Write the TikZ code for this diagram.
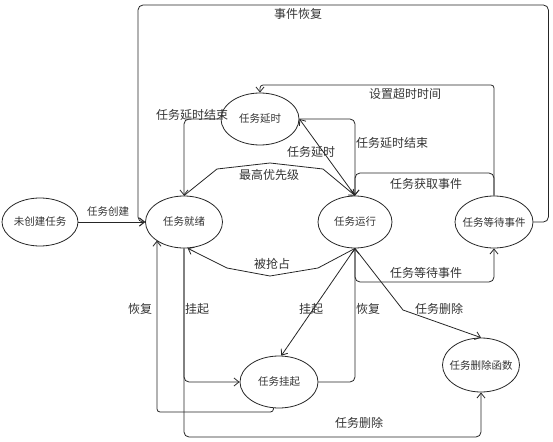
\documentclass[tikz,border=0pt]{standalone}
\usepackage{fontspec}
\setmainfont{Noto Sans CJK SC}
\usetikzlibrary{shapes.geometric,arrows.meta}
\begin{document}
\begin{tikzpicture}[x=1pt,y=-1pt,
  st/.style={ellipse,draw=black!85,line width=0.8pt,inner sep=0pt,font=\fontsize{10.5}{12}\selectfont,text=black!80},
  lbl/.style={inner sep=0pt,font=\fontsize{12}{14}\selectfont,text=black!80},
  arr/.style={draw=black!85,line width=0.8pt,rounded corners=5pt,-{Straight Barb[length=5pt,width=8pt]}},
  arrs/.style={draw=black!85,line width=0.8pt,-{Straight Barb[length=5pt,width=8pt]}}]
\useasboundingbox (0,0) rectangle (553,441);
% states
\node[st,minimum width=76pt,minimum height=48pt] (uc) at (40,222) {\makebox[0pt]{未创建任务}};
\node[st,minimum width=77pt,minimum height=52pt] (rdy) at (184,222) {\makebox[0pt]{任务就绪}};
\node[st,minimum width=74pt,minimum height=52pt] (run) at (355,222) {\makebox[0pt]{任务运行}};
\node[st,minimum width=78pt,minimum height=52pt] (wait) at (494,222) {\makebox[0pt]{任务等待事件}};
\node[st,minimum width=78pt,minimum height=52pt] (dly) at (260,119) {\makebox[0pt]{任务延时}};
\node[st,minimum width=78pt,minimum height=52pt] (sus) at (279,382) {\makebox[0pt]{任务挂起}};
\node[st,minimum width=77pt,minimum height=54pt] (del) at (481,365) {\makebox[0pt]{任务删除函数}};
% helper coordinates
\coordinate (evtl) at (138,5);
\coordinate (st1) at (260,85);
\coordinate (ge) at (355,173);
\coordinate (we) at (494,282);
\coordinate (rb) at (157,412);
\coordinate (db) at (481,437);
% connectors
\draw[arrs] (uc.east) -- (rdy.west);
\draw[arr] (wait.east) -- ++(15,0) |- (evtl) |- (rdy.west);
\draw[arr,rounded corners=3pt] (wait.north) |- (st1) -- (dly.north);
\draw[arr] (wait.north) |- (ge) -- (run.north);
\draw[arr] (run.south) |- (we) -- (wait.south);
\draw[arr] (dly.west) -| (rdy.north);
\draw[arr] (dly.east) -| (run.north);
\draw[arrs] (run.north) -- (dly.east);
\draw[arrs] (rdy.north) -- (217,169) -- (270,163) -- (323,169) -- (run.north);
\draw[arrs] (run.south) -- (318,268) -- (270,276) -- (227,268) -- (rdy.278);
\draw[arrs] (run.south) -- (sus.85);
\draw[arr] (sus.east) -| (run.south);
\draw[arrs] (run.south) -- (403,310) -- (del.north);
\draw[arr] (rdy.south) |- (sus.west);
\draw[arr,rounded corners=3pt] (sus.258) |- (rb) -- (rb |- rdy.214);
\draw[arr] (rdy.south) |- (db) -- (del.south);
% labels
\node[lbl,font=\fontsize{10.5}{12}\selectfont] (l1) at (108,212) {任务创建};
\node[lbl] (l2) at (298,14) {事件恢复};
\node[lbl] (l3) at (405,94) {设置超时时间};
\node[lbl] (l4) at (426,184) {任务获取事件};
\node[lbl] (l5) at (426,273) {任务等待事件};
\node[lbl] (l6) at (192,115) {任务延时结束};
\node[lbl] (l7) at (392,143) {任务延时结束};
\node[lbl] (l8) at (311,152) {任务延时};
\node[lbl] (l9) at (269,175) {最高优先级};
\node[lbl] (l10) at (272,264) {被抢占};
\node[lbl] (l11) at (311,309) {挂起};
\node[lbl] (l12) at (368,309) {恢复};
\node[lbl] (l13) at (439,309) {任务删除};
\node[lbl] (l14) at (197,309) {挂起};
\node[lbl] (l15) at (140,309) {恢复};
\node[lbl] (l16) at (359,423) {任务删除};
\end{tikzpicture}
\end{document}
